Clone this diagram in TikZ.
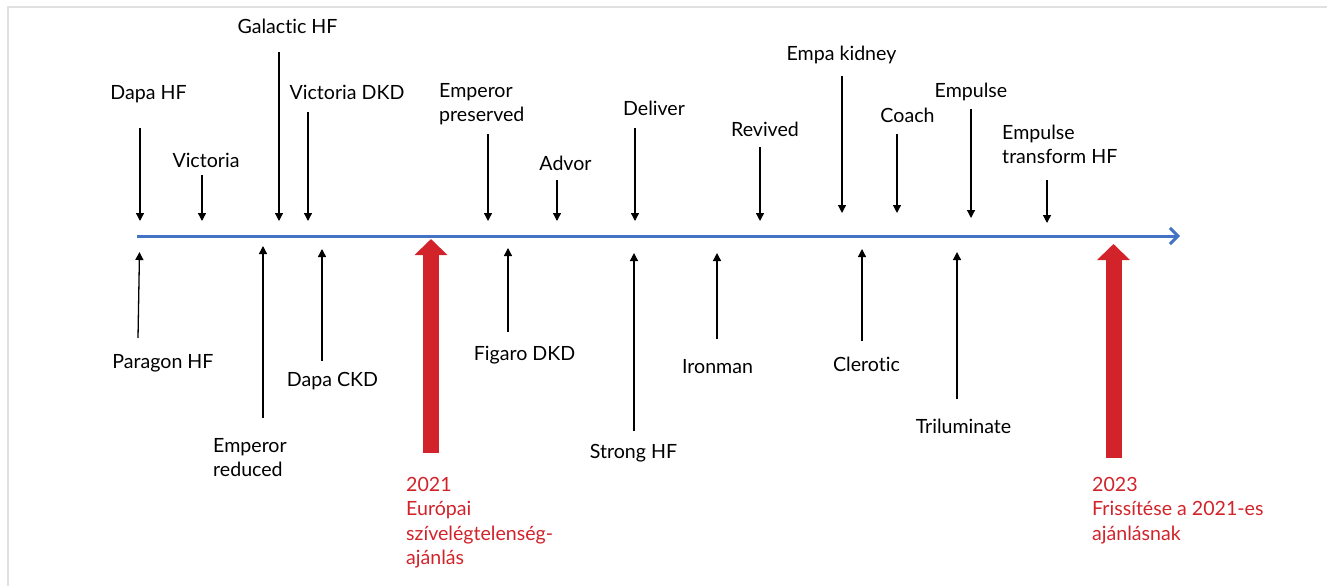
\documentclass[tikz,border=0pt]{standalone}
\usepackage{fontspec}
\setmainfont{Lato}[Ligatures={NoCommon,NoRare,NoContextual}]
\usetikzlibrary{arrows.meta}
\definecolor{tlblue}{HTML}{4472C4}
\definecolor{tlred}{HTML}{D2232A}
\definecolor{framegray}{HTML}{E0E0E0}
\newcommand{\mylines}[1]{\begin{tabular}[t]{@{}l@{}}#1\end{tabular}}
\begin{document}
\begin{tikzpicture}[x=1pt,y=-1pt,
  lbl/.style={font=\fontsize{19.6}{24.5}\selectfont, inner sep=0pt, anchor=base},
  lbll/.style={lbl, anchor=base west},
  redlbl/.style={lbll, text=tlred},
  evt/.style={draw=black, line width=1.3pt, -{Triangle[length=8pt,width=8pt]}},
  bigarrow/.style={draw=tlred, line width=16pt, -{Triangle[length=16pt,width=32pt]}},
  timeline/.style={draw=tlblue, line width=3pt, -{Straight Barb[length=8pt,width=16pt,line width=3pt]}},
  framelne/.style={draw=framegray, line width=2pt}]
\useasboundingbox (0,0) rectangle (1327,586);
% frame
\coordinate (fA) at (7.5,586);
\coordinate (fB) at (7.5,7.5);
\coordinate (fC) at (1327,7.5);
\draw[framelne] (fA) -- (fB) -- (fC);
% timeline
\coordinate (tl0) at (137,236);
\coordinate (tl1) at (1180,236);
\draw[timeline] (tl0) -- (tl1);
% top labels
\node[lbl] (dapahf) at (148.5,99) {Dapa HF};
\node[lbl] (victoria) at (206,167) {Victoria};
\node[lbl] (galactic) at (287.5,34) {Galactic HF};
\node[lbl] (victdkd) at (347,99) {Victoria DKD};
\node[lbll] (emppres) at (439,97) {\mylines{Emperor\\preserved}};
\node[lbl] (advor) at (565.5,170) {Advor};
\node[lbl] (deliver) at (654,115) {Deliver};
\node[lbl] (revived) at (765,136) {Revived};
\node[lbl] (empakid) at (841.5,60) {Empa kidney};
\node[lbl] (coach) at (907.5,122) {Coach};
\node[lbl] (empulse) at (971,97) {Empulse};
\node[lbll] (emptrans) at (1002,139) {\mylines{Empulse\\transform HF}};
% top arrows: name/x/top/tip
\foreach \n/\x/\a/\b in {t1/140/128/221, t2/202/175/221, t3/279/52/221, t4/308/112/221,
  t5/488/134/221, t6/557/180/221, t7/635/128/221, t8/760/147/221,
  t9/842/76/213, t10/897/134/213, t11/971/109/218, t12/1047/180/223}{
  \coordinate (\n s) at (\x,\a);
  \coordinate (\n e) at (\x,\b);
  \draw[evt] (\n s) -- (\n e);
}
% bottom labels
\node[lbl] (paragon) at (163,368) {Paragon HF};
\node[lbll] (empred) at (213,452) {\mylines{Emperor\\reduced}};
\node[lbl] (dapackd) at (332.5,386) {Dapa CKD};
\node[lbl] (figaro) at (524.5,360) {Figaro DKD};
\node[lbl] (strong) at (633.5,458) {Strong HF};
\node[lbl] (ironman) at (717.5,373) {Ironman};
\node[lbl] (clerotic) at (866.5,371) {Clerotic};
\node[lbl] (trilum) at (963.5,433) {Triluminate};
% bottom arrows
\coordinate (b1s) at (138,338); \coordinate (b1e) at (139.5,252);
\draw[evt] (b1s) -- (b1e);
\foreach \n/\x/\a/\b in {b2/263/418/246, b3/322/361/249, b4/508/332/248,
  b5/634/431/253, b6/717/339/253, b7/862/341/249, b8/957/399/252}{
  \coordinate (\n s) at (\x,\a);
  \coordinate (\n e) at (\x,\b);
  \draw[evt] (\n s) -- (\n e);
}
% red arrows
\coordinate (r1s) at (431,453); \coordinate (r1e) at (431,239);
\draw[bigarrow] (r1s) -- (r1e);
\coordinate (r2s) at (1113.5,458); \coordinate (r2e) at (1113.5,244);
\draw[bigarrow] (r2s) -- (r2e);
\node[redlbl] (rec21) at (406,491) {\mylines{2021\\Európai\\szívelégtelenség-\\ajánlás}};
\node[redlbl] (rec23) at (1092,491) {\mylines{2023\\Frissítése a 2021-es\\ajánlásnak}};
\end{tikzpicture}
\end{document}
